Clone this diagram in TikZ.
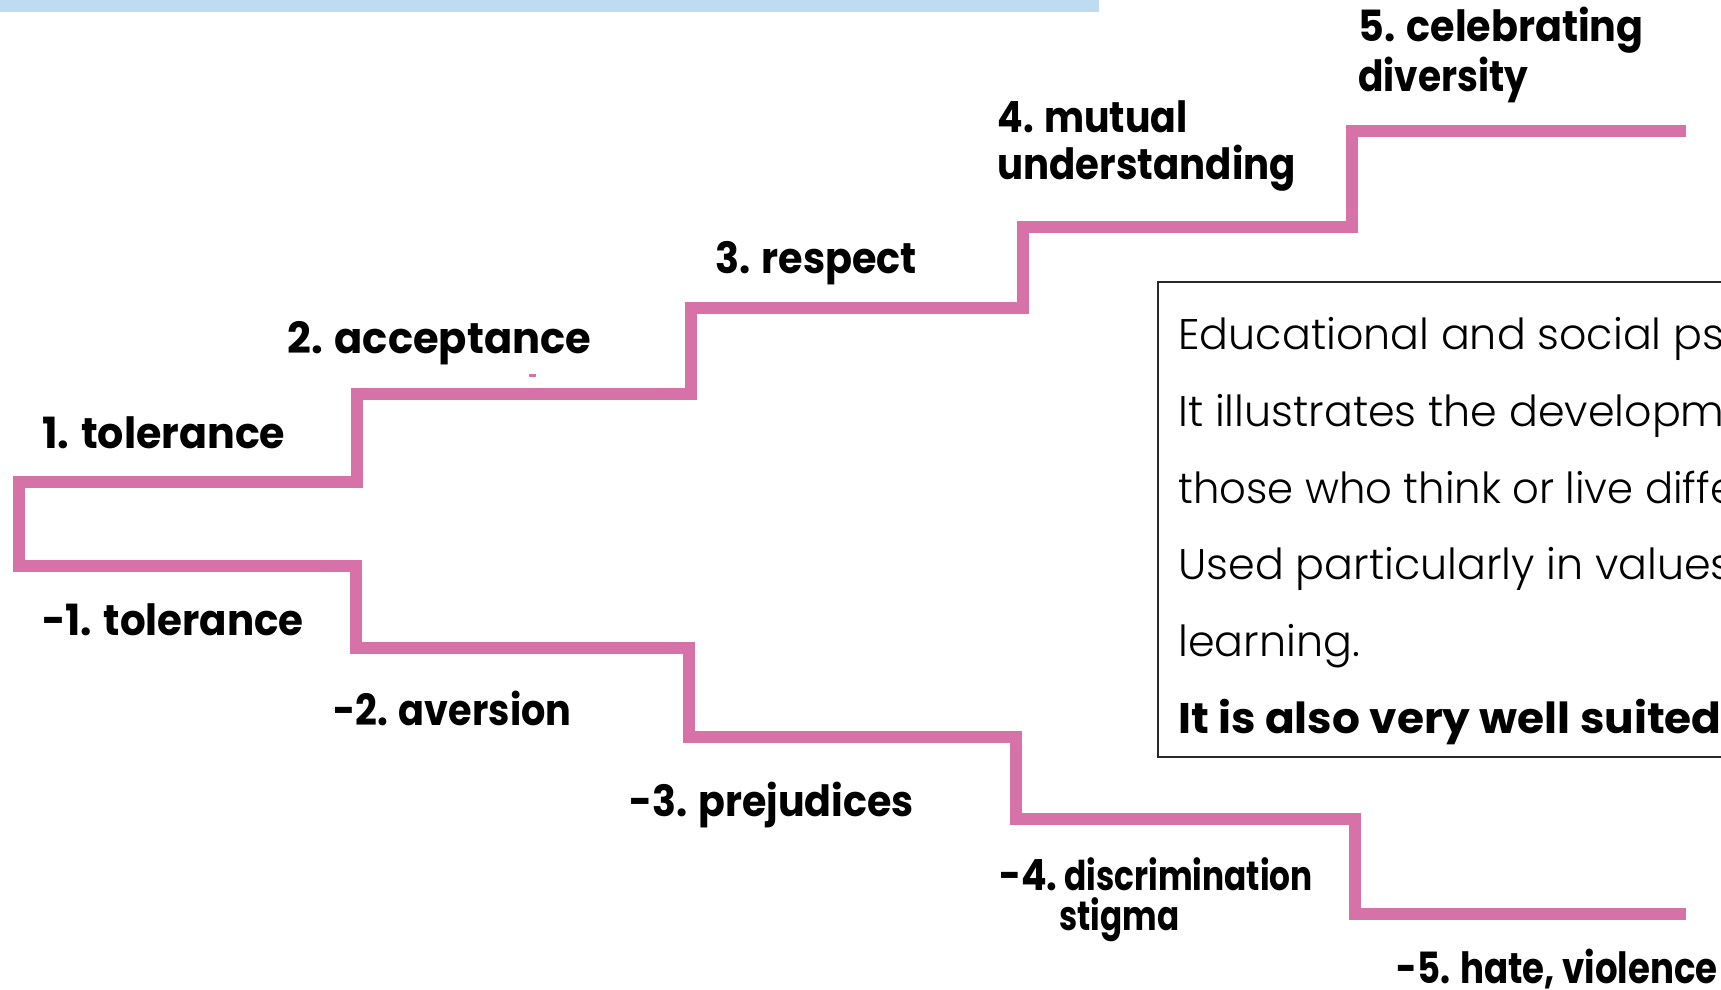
\documentclass[tikz,border=0pt]{standalone}
\usepackage{fontspec}
\usepackage{graphicx}
\newfontfamily\labfont{Poppins}[FakeStretch=0.88]
\newfontfamily\labcond{Poppins}[FakeStretch=0.78]
\newfontfamily\boxfont{Poppins Light}
\newfontfamily\boxbold{Poppins}
\newcommand\hsx[2]{\scalebox{#1}[1]{#2}}
\definecolor{stair}{RGB}{214,114,167}
\definecolor{topbar}{RGB}{189,220,241}
\definecolor{boxline}{RGB}{40,40,40}
\begin{document}
\begin{tikzpicture}[x=0.5pt,y=-0.5pt,
  lab/.style={anchor=base west, inner sep=0pt, font=\labfont\bfseries\fontsize{21.5pt}{24pt}\selectfont},
  labsmall/.style={anchor=base west, inner sep=0pt, font=\labcond\bfseries\fontsize{20.5pt}{24pt}\selectfont},
  boxtext/.style={anchor=base west, inner sep=0pt, font=\boxfont\fontsize{21.4pt}{24pt}\selectfont},
  boxtextbold/.style={anchor=base west, inner sep=0pt, font=\boxbold\bfseries\fontsize{21.4pt}{24pt}\selectfont},
  stairline/.style={draw=stair, line width=6pt, line join=miter, line cap=butt}]
\useasboundingbox (0,0) rectangle (1721,990);
\clip (0,0) rectangle (1721,990);
\fill[white] (0,0) rectangle (1721,990);
% top bar
\fill[topbar] (0,0) rectangle (1099,12);
% staircase
\draw[stairline] (1686,131) -- (1352,131) -- (1352,227.5) -- (1022.5,227.5) -- (1022.5,308)
  -- (691,308) -- (691,393.5) -- (357,393.5) -- (357,482) -- (19,482) -- (19,566)
  -- (356,566) -- (356,648) -- (689,648) -- (689,736.5) -- (1016,736.5) -- (1016,819)
  -- (1354.5,819) -- (1354.5,914) -- (1686,914);
\fill[stair] (529,374) rectangle (536,377);
% positive labels
\node[lab] (p1) at (42,448) {\hsx{1.089}{1. tolerance}};
\node[lab] (p2) at (287,353) {\hsx{1.10}{2. acceptance}};
\node[lab] (p3) at (715,273) {\hsx{1.05}{3. respect}};
\node[lab] (p4a) at (997,133) {4. mutual};
\node[lab] (p4b) at (997,180) {\hsx{1.022}{understanding}};
\node[lab] (p5a) at (1358,42) {\hsx{1.049}{5. celebrating}};
\node[lab] (p5b) at (1358,92) {\hsx{0.99}{diversity}};
% negative labels
\node[lab] (n1) at (42,635) {\hsx{1.067}{-1. tolerance}};
\node[lab] (n2) at (333,725) {\hsx{1.01}{-2. aversion}};
\node[lab] (n3) at (629,816) {\hsx{1.045}{-3. prejudices}};
\node[lab] (n4a) at (999,890) {-4.};
\node[labsmall] (n4b) at (1064,890) {\hsx{1.025}{discrimination}};
\node[labsmall] (n4c) at (1059,930) {\hsx{1.02}{stigma}};
\node[lab] (n5) at (1396,983) {\hsx{0.94}{-5. hate, violence}};
% text box
\draw[boxline, line width=0.8pt] (1158,282) rectangle (1760,757);
\node[boxtext] (t1) at (1178,350) {Educational and social psychology};
\node[boxtext] (t2) at (1178,426.6) {It illustrates the development};
\node[boxtext] (t3) at (1178,503.2) {\hsx{0.975}{those who think or live differently}};
\node[boxtext] (t4) at (1178,579.8) {Used particularly in values};
\node[boxtext] (t5) at (1178,656.4) {learning.};
\node[boxtextbold] (t6) at (1178,733) {\hsx{1.025}{It is also very well suited}};
\end{tikzpicture}
\end{document}
